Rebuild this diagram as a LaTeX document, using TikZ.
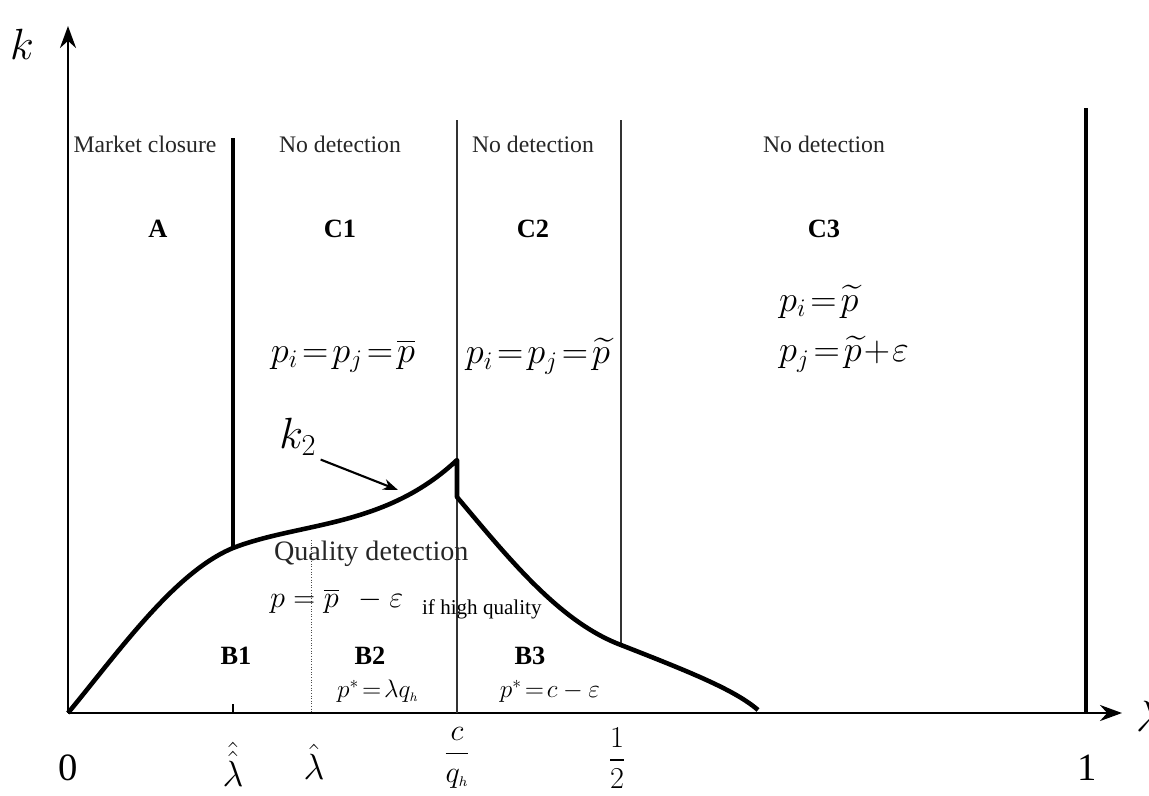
\documentclass[tikz,border=0pt]{standalone}
\usepackage{fontspec}
\setmainfont{Liberation Serif}
\usepackage{amsmath,amssymb}
\usepackage{tikz}
\usetikzlibrary{positioning, calc, arrows.meta}

\begin{document}
\begin{tikzpicture}[
  x=0.02cm, y=-0.02cm,
  >={Stealth[length=0.44cm, width=0.32cm]},
  every node/.style={align=center, inner sep=1pt},
  axis/.style={->, line width=1.6pt},
  border/.style={line width=2.2pt},
  divider/.style={line width=1pt, black!80},
  dotline/.style={densely dotted, line width=0.5pt, black!70},
  kcurve/.style={line width=2.6pt, line join=round},
  region/.style={font=\fontsize{13.5}{15}\selectfont, black!85},
  zone/.style={font=\fontsize{15}{17}\selectfont\bfseries},
  price/.style={font=\fontsize{20}{23}\selectfont},
  small/.style={font=\fontsize{12}{14}\selectfont},
  tick/.style={font=\fontsize{22}{25}\selectfont},
  frac/.style={font=\fontsize{17}{19}\selectfont}
]
\useasboundingbox (0,0) rectangle (1149,795);

% --- Axes ---
\coordinate (orig) at (68,713);
\draw[axis] (orig) -- (68,26) coordinate (ktip);
\draw[axis] (orig) -- (1122,713) coordinate (ltip);
\node[font=\fontsize{29}{32}\selectfont] (klab) at (22,44) {$k$};
\node[font=\fontsize{29}{32}\selectfont, anchor=west] (llab) at (1134,716) {$\lambda$};

% --- Region boundaries ---
\draw[border] (233,138) -- (233,548) coordinate (kink);
\draw[divider] (457,120) -- (457,713);
\draw[divider] (621,120) -- (621,645);
\draw[border, line width=1.8pt] (1086,108) -- (1086,713);
\draw[dotline] (311,540) -- (311,713);
\draw[line width=0.8pt] (233,713) -- (233,704);

% --- Threshold curve k_2 ---
\draw[kcurve] (orig) .. controls (120,650) and (175,572) .. (kink)
  .. controls (300,522) and (385,528) .. (457,460) coordinate (peak)
  -- (457,497)
  .. controls (510,560) and (560,622) .. (621,645)
  .. controls (690,672) and (735,690) .. (758,710);

% --- Top labels ---
\node[region] (mc) at (145,144) {Market closure};
\node[region] (nd1) at (340,144) {No detection};
\node[region] (nd2) at (533,144) {No detection};
\node[region] (nd3) at (824,144) {No detection};

\node[zone] (A) at (158,229) {A};
\node[zone] (C1) at (340,229) {C1};
\node[zone] (C2) at (533,229) {C2};
\node[zone] (C3) at (824,229) {C3};

% --- Prices ---
\node[price] (pc1) at (343,356) {$p_i\!=\!p_j\!=\!\overline{p}$};
\node[price] (pc2) at (538,356) {$p_i\!=\!p_j\!=\!\widetilde{p}$};
\node[price, anchor=west] (pc3a) at (777,302) {$p_i\!=\!\widetilde{p}$};
\node[price, anchor=west] (pc3b) at (777,354) {$p_j\!=\!\widetilde{p}\!+\!\varepsilon$};

% --- k2 label ---
\node[font=\fontsize{23}{26}\selectfont] (k2) at (298,437) {$k_2$};
\coordinate (k2pt) at (398,490);
\draw[->, >={Stealth[length=0.3cm, width=0.22cm]}, line width=1.2pt] (k2.south east) ++(2,2) -- (k2pt);

% --- Detection region ---
\node[region, font=\fontsize{16}{18}\selectfont, anchor=west] (qd) at (272,554) {Quality detection};
\node[price, font=\fontsize{19}{22}\selectfont, anchor=west] (pd) at (268,601) {$p=\overline{p}\;\,-\varepsilon$};
\node[small, anchor=west] (hq) at (420,609) {if high quality};

\node[zone] (B1) at (236,656) {B1};
\node[zone] (B2) at (370,656) {B2};
\node[zone] (B3) at (530,656) {B3};
\node[font=\fontsize{14}{16}\selectfont] (pb2) at (378,691) {$p^{*}\!=\!\lambda q_{\scriptscriptstyle h}$};
\node[font=\fontsize{14}{16}\selectfont] (pb3) at (550,691) {$p^{*}\!=\!c-\varepsilon$};

% --- Axis ticks ---
\node[tick] (t0) at (68,768) {0};
\node[tick] (t1) at (233,764) {$\hat{\hat{\lambda}}$};
\node[tick] (t2) at (314,762) {$\hat{\lambda}$};
\node[frac] (t3) at (457,758) {$\dfrac{c}{q_{\scriptscriptstyle h}}$};
\node[frac] (t4) at (617,758) {$\dfrac{1}{2}$};
\node[tick] (t5) at (1087,768) {1};

\end{tikzpicture}
\end{document}
